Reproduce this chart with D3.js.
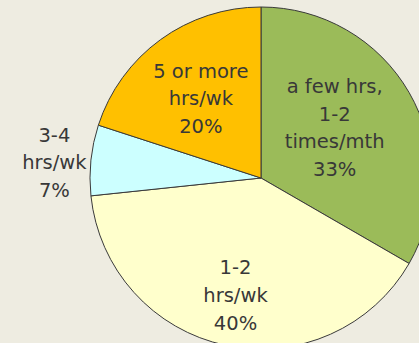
<!DOCTYPE html>
<html>
<head>
<meta charset="utf-8">
<script src="https://cdn.jsdelivr.net/npm/d3@7"></script>
<style>
  html, body { margin: 0; padding: 0; background: #eeece1; }
  svg { display: block; }
</style>
</head>
<body>
<svg id="chart"></svg>
<script>
// categories and shares (counts out of 15)
const categories = [
  ["a few hrs,", "1-2", "times/mth"],
  ["1-2", "hrs/wk"],
  ["3-4", "hrs/wk"],
  ["5 or more", "hrs/wk"]
];
const counts = [5, 6, 1, 3];
const colors = ["#9bbb59", "#ffffcc", "#ccffff", "#ffc000"];

const width = 419, height = 343;
const cx = 261, cy = 178, radius = 171;

// label placement: share of radius, and a small angle nudge in degrees
const labelPos = [[0.522, -4.4], [0.70, 0.3], [1.212, -1.6], [0.585, -1]];

const svg = d3.select('#chart')
  .attr('width', width)
  .attr('height', height);

svg.append('rect')
  .attr('width', width)
  .attr('height', height)
  .attr('fill', '#eeece1');

const g = svg.append('g')
  .attr('transform', `translate(${cx},${cy})`);

const total = d3.sum(counts);
const pie = d3.pie().sort(null).value(d => d);
const arcs = pie(counts);

const arc = d3.arc().innerRadius(0).outerRadius(radius);

g.selectAll('path.slice')
  .data(arcs)
  .enter().append('path')
  .attr('class', 'slice')
  .attr('d', arc)
  .attr('fill', (d, i) => colors[i])
  .attr('stroke', '#3a3a3a')
  .attr('stroke-width', 1);

const lineH = 27.6;

const labels = g.selectAll('text.label')
  .data(arcs)
  .enter().append('text')
  .attr('class', 'label')
  .attr('text-anchor', 'middle')
  .attr('font-family', '"DejaVu Sans", sans-serif')
  .attr('font-size', '19.5px')
  .attr('fill', '#383838')
  .attr('transform', (d, i) => {
    const a = (d.startAngle + d.endAngle) / 2 + labelPos[i][1] * Math.PI / 180;
    const r = radius * labelPos[i][0];
    return `translate(${Math.sin(a) * r},${-Math.cos(a) * r})`;
  });

labels.each(function(d, i) {
  const lines = categories[i].concat([Math.round(d.value / total * 100) + '%']);
  const t = d3.select(this);
  const top = -(lines.length - 1) * lineH / 2;
  lines.forEach((ln, j) => {
    t.append('tspan')
      .attr('x', 0)
      .attr('y', top + j * lineH)
      .attr('dy', '0.36em')
      .text(ln);
  });
});
</script>
</body>
</html>
